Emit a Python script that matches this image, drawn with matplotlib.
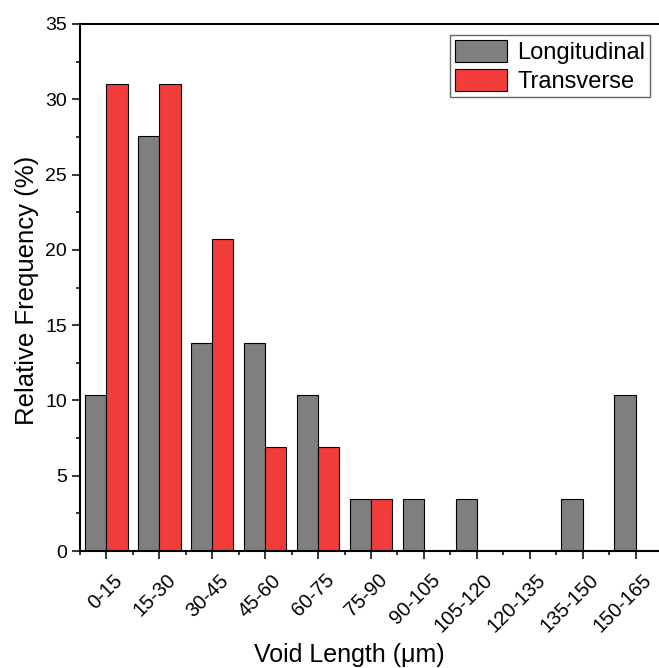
import matplotlib
matplotlib.use("Agg")
import matplotlib.pyplot as plt
import matplotlib.transforms as mtransforms
import numpy as np
from matplotlib.ticker import MultipleLocator

plt.rcParams['font.family'] = ['Liberation Sans', 'DejaVu Sans']

categories = ["0-15", "15-30", "30-45", "45-60", "60-75", "75-90",
              "90-105", "105-120", "120-135", "135-150", "150-165"]
longitudinal = [10.34, 27.59, 13.79, 13.79, 10.34, 3.45, 3.45, 3.45, 0.0, 3.45, 10.34]
transverse = [31.03, 31.03, 20.69, 6.90, 6.90, 3.45, 0.0, 0.0, 0.0, 0.0, 0.0]

grey = "#7f7f7f"
red = "#f23c3c"

fig = plt.figure(figsize=(6.59, 6.68), dpi=100)
ax = fig.add_axes([80 / 659, 117 / 668, 582 / 659, 527 / 668])

x = np.arange(len(categories))
w = 0.4
ax.bar(x - w / 2, longitudinal, w, color=grey, edgecolor="black", linewidth=0.8, label="Longitudinal")
ax.bar(x + w / 2, transverse, w, color=red, edgecolor="black", linewidth=0.8, label="Transverse")

ax.set_xlim(-0.5, len(categories) - 0.5)
ax.set_ylim(0, 35)
ax.set_xticks(x)
ax.set_xticklabels(categories, rotation=45, ha="right", va="center",
                   rotation_mode="anchor", fontsize=14.5)
ax.xaxis.set_minor_locator(MultipleLocator(1, offset=0.5))
ax.yaxis.set_major_locator(MultipleLocator(5))
ax.yaxis.set_minor_locator(MultipleLocator(2.5))
ax.tick_params(axis="y", labelsize=14)
ax.tick_params(which="major", direction="out", length=6, width=1.1)
ax.tick_params(which="minor", direction="out", length=3, width=1.1)
ax.tick_params(axis="x", which="major", pad=0)

# shift rotated labels so their right end sits just right of and below the tick
shift = mtransforms.ScaledTranslation(13 / 100, -18 / 100, fig.dpi_scale_trans)
for lab in ax.get_xticklabels():
    lab.set_transform(lab.get_transform() + shift)

for s in ax.spines.values():
    s.set_linewidth(1.5)

ax.set_xlabel("Void Length (μm)", fontsize=18)
ax.xaxis.set_label_coords((349 - 80) / 582, -(655 - 551) / 527)
ax.xaxis.label.set_va("center")
ax.set_ylabel("Relative Frequency (%)", fontsize=18.5)
ax.yaxis.set_label_coords(-(80 - 27) / 582, (551 - 290) / 527)
ax.yaxis.label.set_va("center")

leg = ax.legend(loc="upper right", bbox_to_anchor=(0.979, 0.979), fontsize=17,
                fancybox=False, edgecolor="#666666", framealpha=1,
                handlelength=2.2, handleheight=1.06, borderpad=0.2,
                labelspacing=0.2, handletextpad=0.42, borderaxespad=0)
leg.get_frame().set_linewidth(1.0)

fig.savefig("out.png", dpi=100)
